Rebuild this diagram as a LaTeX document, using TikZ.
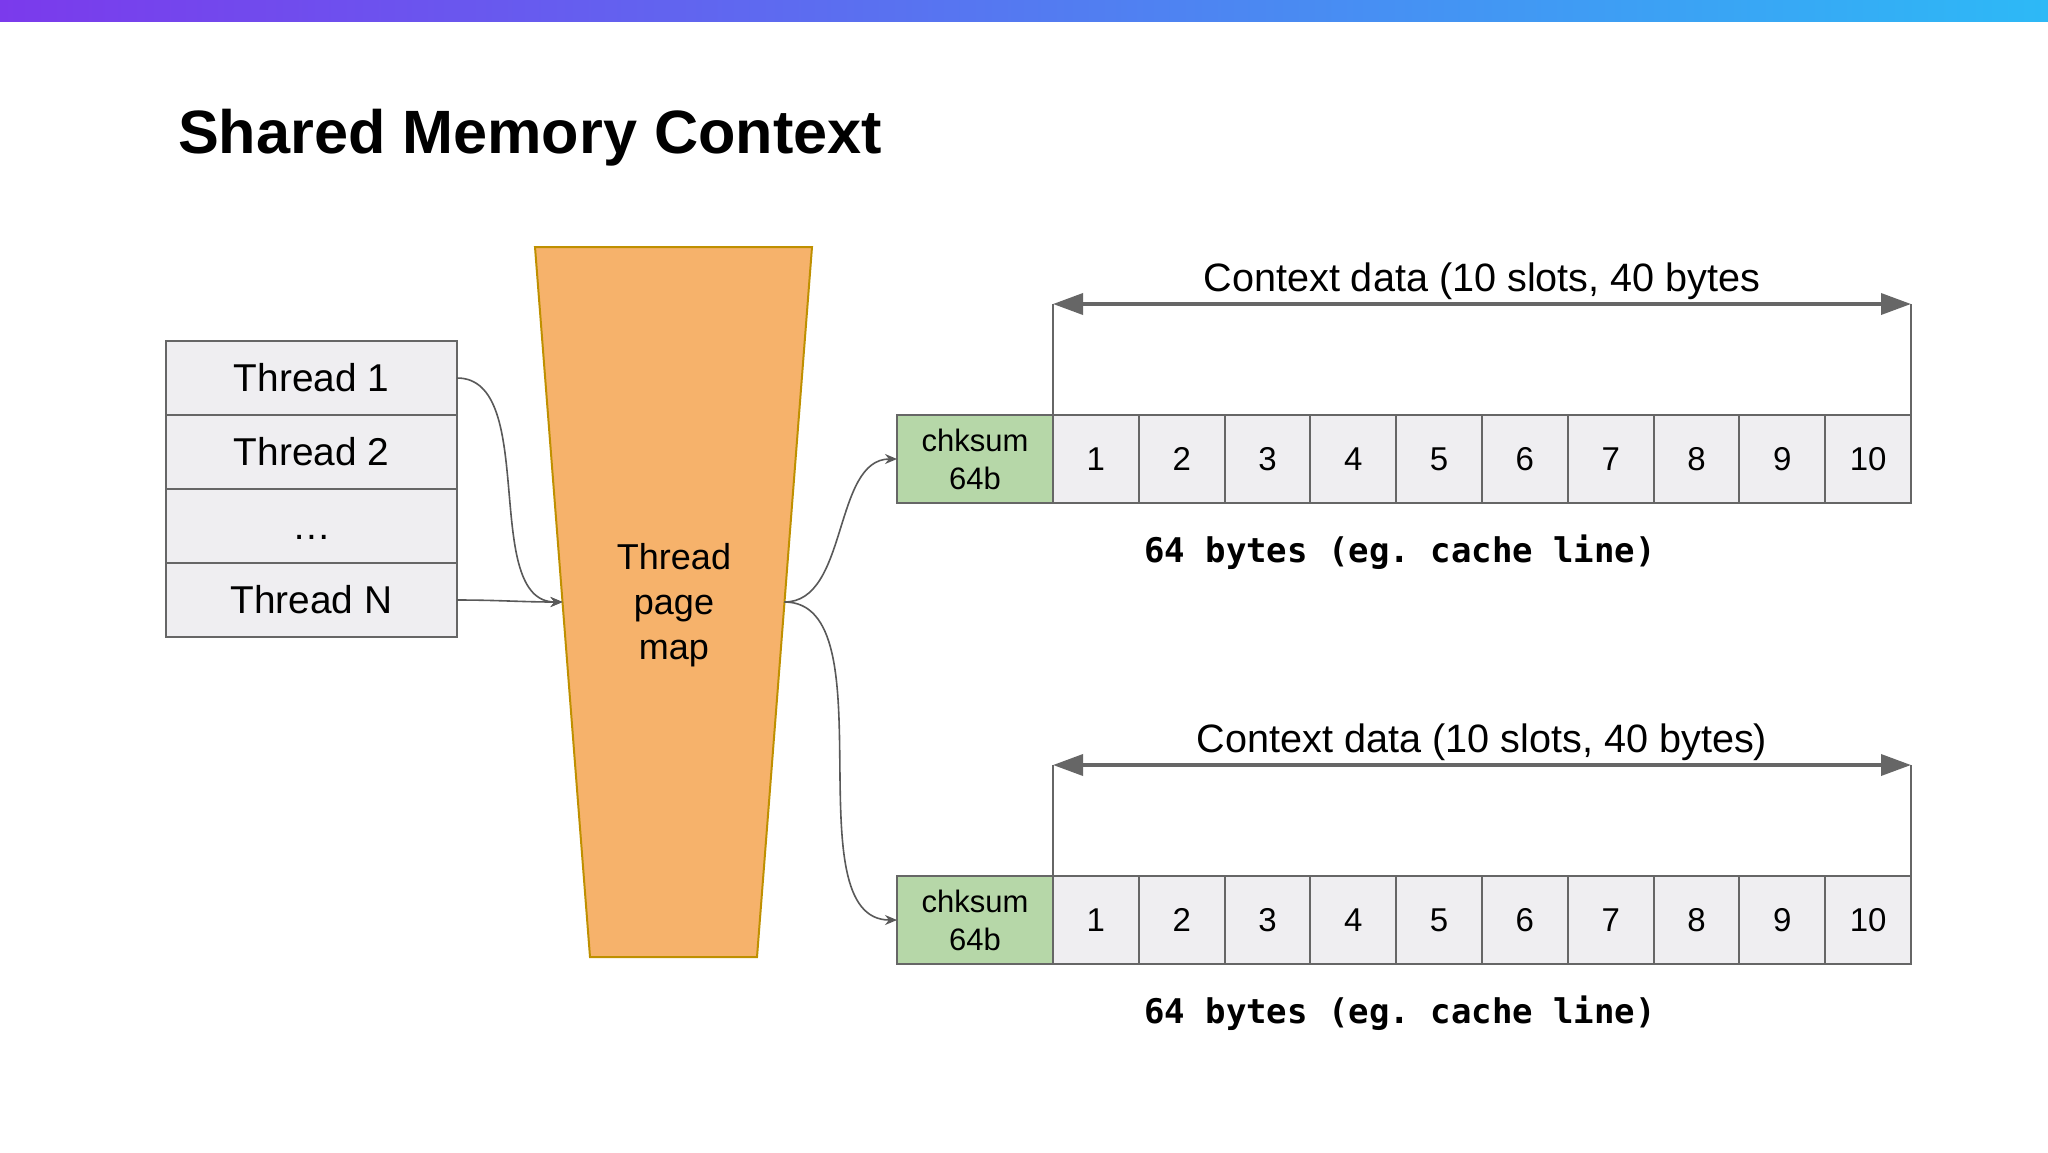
\documentclass[tikz,border=0pt]{standalone}
\usepackage{fontspec}
\setmainfont{Liberation Sans}
\newfontfamily\codefont{DejaVu Sans Mono}
\usetikzlibrary{positioning,arrows.meta}
\definecolor{cellgray}{HTML}{EFEEF1}
\definecolor{linegray}{HTML}{666666}
\definecolor{linkgray}{HTML}{595959}
\definecolor{sumgreen}{HTML}{B6D7A8}
\definecolor{maporange}{HTML}{F6B26B}
\definecolor{mapgold}{HTML}{BF9000}
\definecolor{barpurple}{HTML}{7B3AEC}
\definecolor{barblue}{HTML}{2DB9F6}
\begin{document}
\begin{tikzpicture}[
x=0.5pt,y=-0.5pt,
every node/.style={inner sep=0pt,outer sep=0pt},
thread/.style={draw=linegray,line width=1pt,fill=cellgray,minimum width=145.5pt,minimum height=37pt,
	text height=13.9pt,text depth=0pt,font=\fontsize{19.4}{22}\selectfont},
chksum/.style={draw=linegray,line width=1pt,fill=sumgreen,minimum width=78pt,minimum height=44pt,
	align=center,font=\fontsize{15.5}{19}\selectfont},
slot/.style={draw=linegray,line width=1pt,fill=cellgray,minimum width=42.9pt,minimum height=44pt,
	text height=11.8pt,text depth=0pt,font=\fontsize{16.5}{18}\selectfont},
link/.style={draw=linkgray,line width=0.8pt,-{Stealth[length=6pt,width=5pt]}},
span/.style={draw=linegray,line width=1.8pt,{Triangle[length=15pt,width=10.5pt]}-{Triangle[length=15pt,width=10.5pt]}},
guide/.style={draw=linegray,line width=1pt},
caption/.style={font=\fontsize{19.8}{22}\selectfont,anchor=base,yshift=6.5pt},
note/.style={font=\codefont\bfseries\fontsize{17}{20}\selectfont,anchor=base}
]
\useasboundingbox (0,0) rectangle (2048,1152);
\fill[white] (0,0) rectangle (2048,1152);
\shade[left color=barpurple,right color=barblue] (0,0) rectangle (2048,21);

\node[anchor=base west,font=\bfseries\fontsize{30.6}{36}\selectfont] (title) at (178,153) {Shared Memory Context};

% threads
\node[thread] (t1) at (311.5,378) {Thread 1};
\node[thread,below=0pt of t1] (t2) {Thread 2};
\node[thread,below=0pt of t2] (t3) {\ldots};
\node[thread,below=0pt of t3] (tn) {Thread N};

% page map
\draw[fill=maporange,draw=mapgold,line width=1pt] (535,247) -- (812,247) -- (757,957) -- (590,957) -- cycle;
\node[align=center,font=\fontsize{18}{22.5}\selectfont] (tpm) at (674,605) {Thread\\page\\map};
\coordinate (tpm-w) at (562.5,602);
\coordinate (tpm-e) at (784.5,602);

% context rows
\node[chksum] (a0) at (975,459) {chksum\\64b};
\foreach \i [count=\j from 0] in {1,...,10}
	\node[slot,right=0pt of a\j] (a\i) {\i};
\node[chksum] (b0) at (975,920) {chksum\\64b};
\foreach \i [count=\j from 0] in {1,...,10}
	\node[slot,right=0pt of b\j] (b\i) {\i};

\coordinate (aL) at ([yshift=55.5pt]a1.north west);
\coordinate (aR) at ([yshift=55.5pt]a10.north east);
\draw[guide] (a1.north west) -- (aL);
\draw[guide] (a10.north east) -- (aR);
\draw[span] (aL) -- node[caption]{Context data (10 slots, 40 bytes} (aR);

\coordinate (bL) at ([yshift=55.5pt]b1.north west);
\coordinate (bR) at ([yshift=55.5pt]b10.north east);
\draw[guide] (b1.north west) -- (bL);
\draw[guide] (b10.north east) -- (bR);
\draw[span] (bL) -- node[caption]{Context data (10 slots, 40 bytes)} (bR);

\node[note] (an) at (1400,562) {64 bytes (eg.\ cache line)};
\node[note] (bn) at (1400,1023) {64 bytes (eg.\ cache line)};

% links
\draw[link] (t1.east) to[out=0,in=180,looseness=0.85] (tpm-w);
\draw[link] (tn.east) to[out=0,in=180] (tpm-w);
\draw[link] (tpm-e) to[out=0,in=180,looseness=0.9] (a0.west);
\draw[link] (tpm-e) to[out=0,in=180,looseness=0.8] (b0.west);
\end{tikzpicture}
\end{document}
